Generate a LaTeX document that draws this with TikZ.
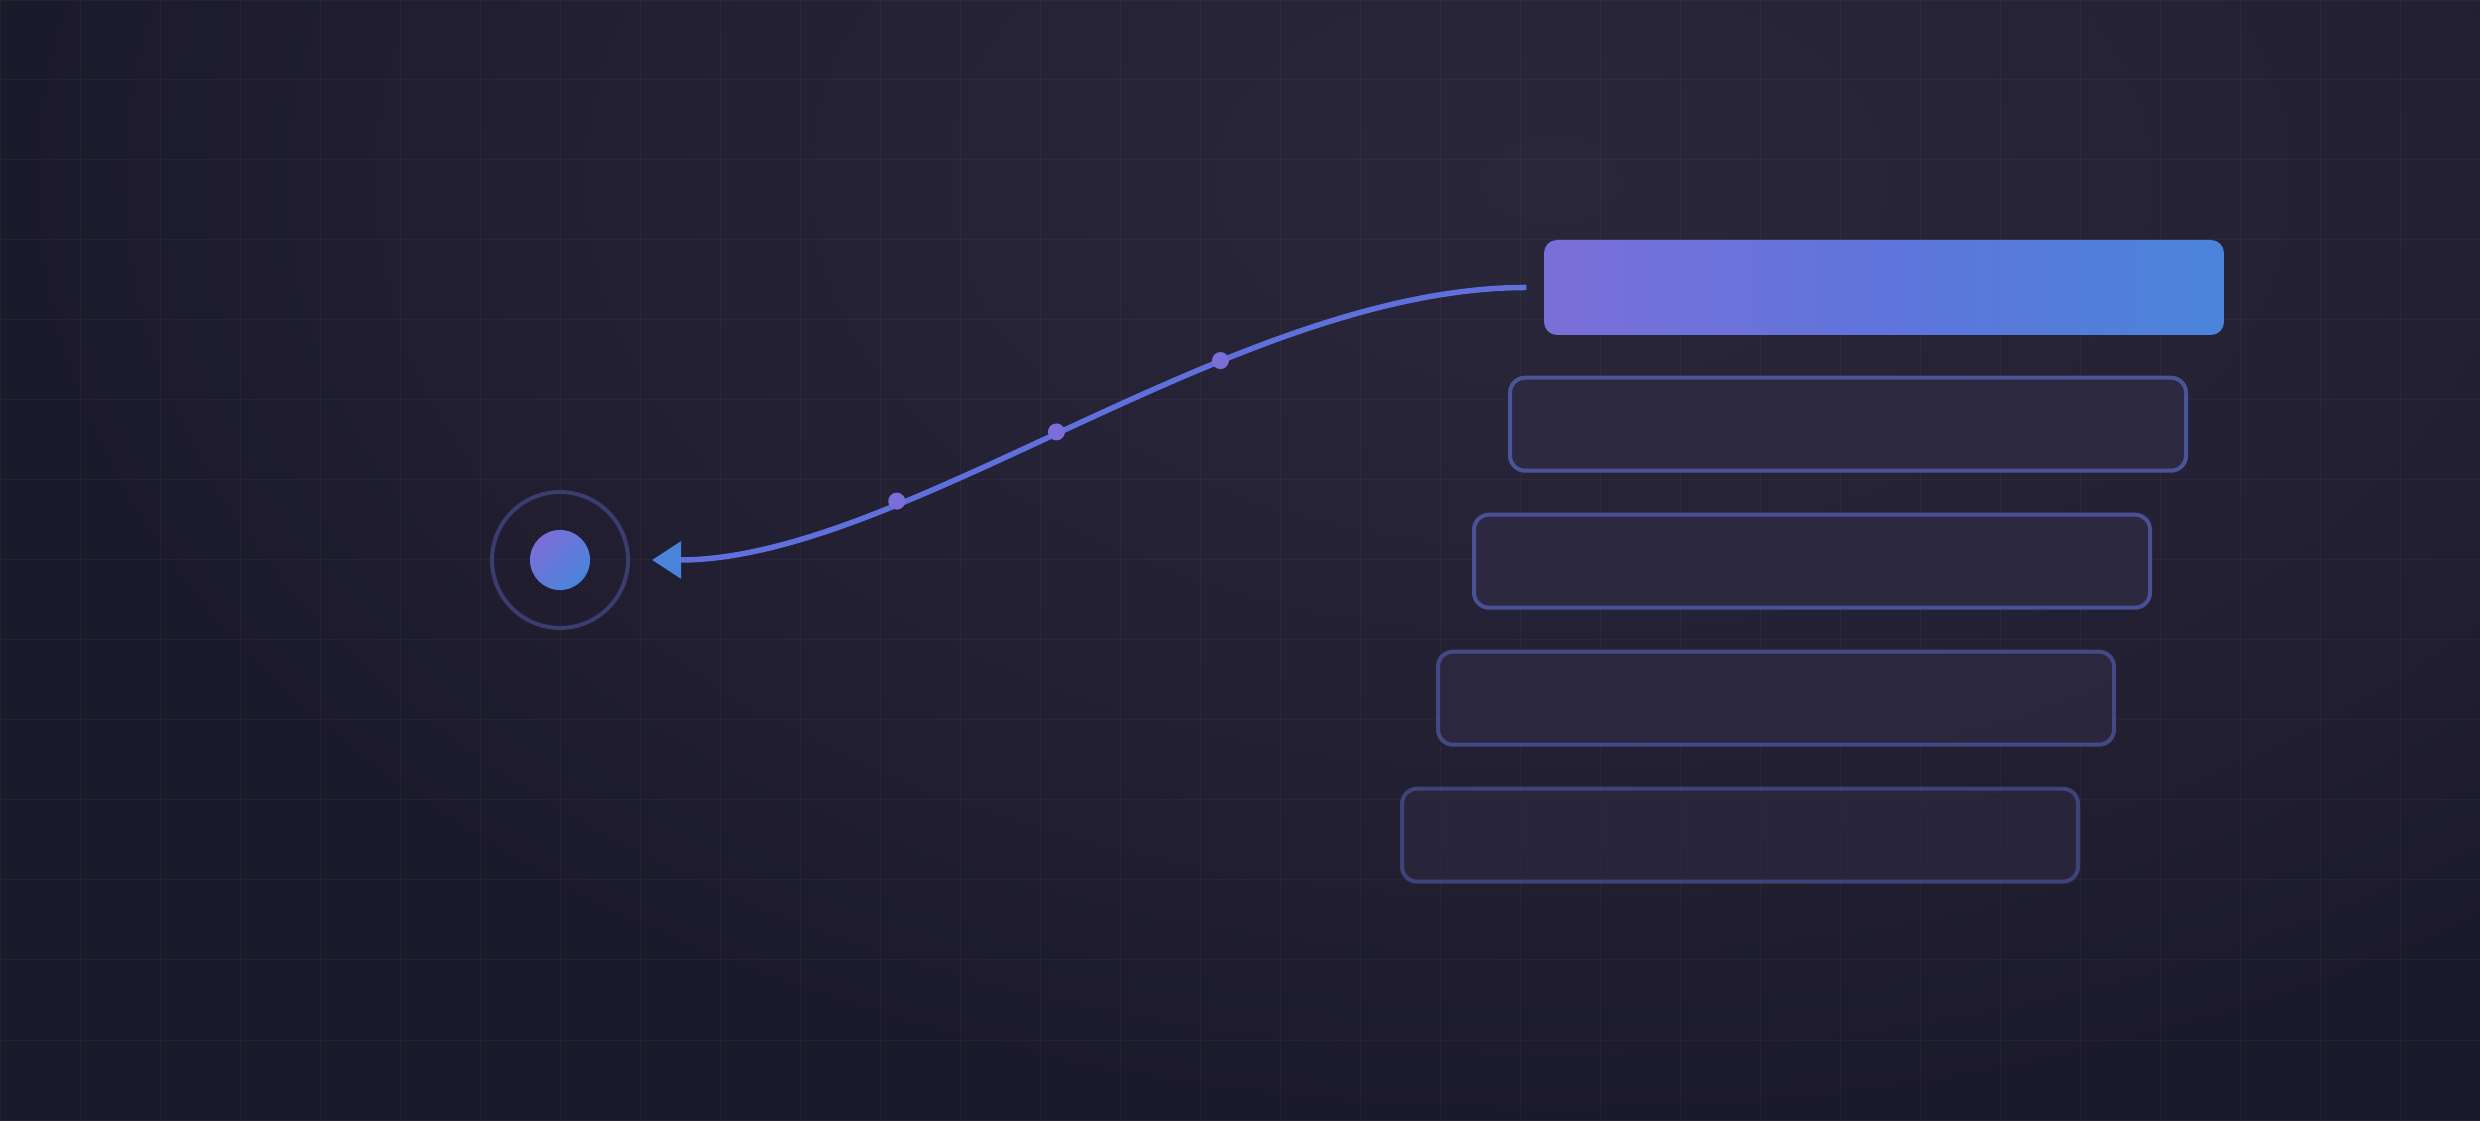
\documentclass[tikz,border=0pt]{standalone}
\usepackage{tikz}
\usetikzlibrary{shapes,arrows.meta,calc,positioning}
\definecolor{bgbase}{HTML}{1B1A2A}
\definecolor{glowin}{HTML}{2A273B}
\definecolor{glowmid}{HTML}{242134}
\definecolor{barviolet}{HTML}{7B6FD9}
\definecolor{barmid}{HTML}{5F74DC}
\definecolor{barblue}{HTML}{4A84DA}
\definecolor{barfill}{HTML}{2D2941}
\definecolor{barline}{HTML}{4B5399}
\definecolor{ringline}{HTML}{3B3D6E}
\definecolor{flowline}{HTML}{5F70DC}
\definecolor{dotviolet}{HTML}{7A6FD9}
\pgfdeclareradialshading{bgglow}{\pgfpoint{0bp}{0bp}}{color(0bp)=(glowin); color(13bp)=(glowmid); color(25bp)=(bgbase); color(50bp)=(bgbase)}
\tikzstyle{barhead} = [rectangle, rounded corners=0.13cm, minimum width=6.8cm, minimum height=0.95cm, left color=barviolet, right color=barblue, middle color=barmid]
\tikzstyle{barstack} = [rectangle, rounded corners=0.15cm, minimum width=6.76cm, minimum height=0.93cm, fill=barfill, draw=barline, line width=0.04cm]
\tikzstyle{flowdot} = [circle, fill=dotviolet, minimum size=0.17cm, inner sep=0pt]
\tikzstyle{flowarrow} = [line width=0.055cm, draw=flowline, -{Triangle[length=0.29cm,width=0.36cm,color=barblue]}]
\begin{document}
\begin{tikzpicture}[gridline/.style={white, opacity=0.035, line width=0.01cm}]
\useasboundingbox (0,0) rectangle (24.8,11.2);
\fill[bgbase] (-0.2,-0.2) rectangle (25,11.4);
\begin{scope}
 \clip (-0.2,-0.2) rectangle (25,11.4);
 \shade[shading=bgglow] (15.5,9.4) ellipse (15.5 and 9.5);
\end{scope}
\draw[gridline] (0,0) grid[step=0.8] (24.8,11.2);

 \node[barhead] (head) at (18.84,8.325) {};
 \node[barstack, below=4mm of head, xshift=-3.6mm] (bar1) {};
 \node[barstack, below=4mm of bar1, xshift=-3.6mm, opacity=0.95] (bar2) {};
 \node[barstack, below=4mm of bar2, xshift=-3.6mm, opacity=0.8] (bar3) {};
 \node[barstack, below=4mm of bar3, xshift=-3.6mm, opacity=0.68] (bar4) {};

 \node[circle, draw=ringline, line width=0.04cm, minimum size=1.36cm, inner sep=0pt] (ring) at (5.6,5.6) {};
 \node[circle, minimum size=0.6cm, inner sep=0pt, top color=barviolet, bottom color=barblue, shading angle=45] (core) at (ring.center) {};

 \coordinate (tail) at ([xshift=-1.7mm]head.west);
 \coordinate (tip) at ([xshift=2.2mm]ring.east);
 \draw[flowarrow] (tail) .. controls +(-2.9,0) and +(2.51,0) .. (tip)
    node[flowdot, pos=0.34] (d1) {}
    node[flowdot, pos=0.52] (d2) {}
    node[flowdot, pos=0.70] (d3) {};
\end{tikzpicture}
\end{document}
